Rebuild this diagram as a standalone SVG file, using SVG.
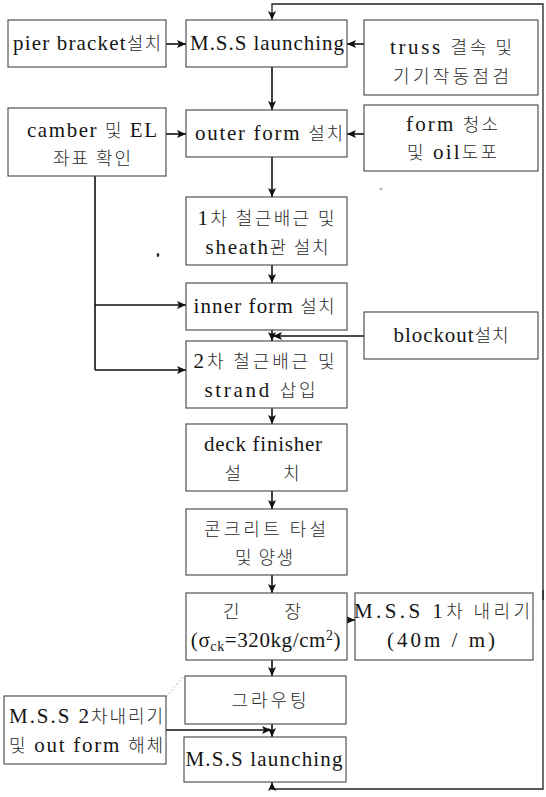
<svg xmlns="http://www.w3.org/2000/svg" width="546" height="797" viewBox="0 0 546 797">
  <style>
    .box { fill: #fff; stroke: #444; stroke-width: 1.1; }
    .t { font-family: "Liberation Serif", "Noto Sans CJK KR", serif; font-size: 21px; fill: #151515; text-anchor: middle; }
    .k { font-family: "Noto Sans CJK KR", "Liberation Serif", sans-serif; font-size: 18px; font-weight: 300; fill: #2a2a2a; }
    .ln { fill: none; stroke: #111; stroke-width: 1.6; }
    .thin { fill: none; stroke: #222; stroke-width: 1.3; }
  </style>
  <defs>
    <marker id="ah" markerUnits="userSpaceOnUse" markerWidth="10" markerHeight="10" refX="9" refY="4" orient="auto">
      <path d="M0,0 L9,4 L0,8 L2,4 z" fill="#111"/>
    </marker>
  </defs>
  <rect width="546" height="797" fill="#fff"/>

  <!-- connectors -->
  <g id="connectors">
    <!-- return loop from the last launching back to the first -->
    <path class="thin" d="M543,600 V4 H272 V20" marker-end="url(#ah)"/>
    <path class="thin" d="M543,590 V789 H272 V782" marker-end="url(#ah)"/>
    <path class="ln" d="M166,44 H186" marker-end="url(#ah)"/>
    <path class="ln" d="M364,44 H347" marker-end="url(#ah)"/>
    <path class="ln" d="M272,67 V110" marker-end="url(#ah)"/>
    <path class="ln" d="M166,134 H186" marker-end="url(#ah)"/>
    <path class="ln" d="M364,134 H347" marker-end="url(#ah)"/>
    <path class="ln" d="M272,157 V197" marker-end="url(#ah)"/>
    <path class="ln" d="M272,265 V283" marker-end="url(#ah)"/>
    <path class="ln" d="M95,176 V370"/>
    <path class="ln" d="M95,305 H186" marker-end="url(#ah)"/>
    <path class="ln" d="M95,370 H186" marker-end="url(#ah)"/>
    <path class="ln" d="M272,330 V341" marker-end="url(#ah)"/>
    <path class="ln" d="M364,336 H273" marker-end="url(#ah)"/>
    <path class="ln" d="M272,408 V424" marker-end="url(#ah)"/>
    <path class="ln" d="M272,491 V509" marker-end="url(#ah)"/>
    <path class="ln" d="M272,575 V593" marker-end="url(#ah)"/>
    <path class="ln" d="M347,620 H355" marker-end="url(#ah)"/>
    <path class="ln" d="M272,660 V676" marker-end="url(#ah)"/>
    <path class="ln" d="M272,724 V737" marker-end="url(#ah)"/>
    <path class="ln" d="M166,730 H271" marker-end="url(#ah)"/>
    <path d="M166,697 L183,677" fill="none" stroke="#999" stroke-width="0.8" stroke-dasharray="2 2"/>
  </g>

  <g id="pier-bracket">
    <rect class="box" x="8" y="20" width="158" height="47"/>
    <text class="t" x="87" y="50" textLength="148" lengthAdjust="spacing">pier bracket<tspan class="k">설치</tspan></text>
  </g>
  <g id="mss-launching-1">
    <rect class="box" x="186" y="20" width="161" height="47"/>
    <text class="t" x="267" y="50" textLength="154" lengthAdjust="spacing">M.S.S launching</text>
  </g>
  <g id="truss">
    <rect class="box" x="364" y="20" width="174" height="75"/>
    <text class="t" x="451" y="54" textLength="122" lengthAdjust="spacing">truss <tspan class="k">결속 및</tspan></text>
    <text class="t" x="451" y="83" textLength="116" lengthAdjust="spacing"><tspan class="k">기기작동점검</tspan></text>
  </g>
  <g id="camber">
    <rect class="box" x="8" y="108" width="158" height="68"/>
    <text class="t" x="92" y="137" textLength="130" lengthAdjust="spacing">camber <tspan class="k">및</tspan> EL</text>
    <text class="t" x="92" y="165" textLength="78" lengthAdjust="spacing"><tspan class="k">좌표 확인</tspan></text>
  </g>
  <g id="outer-form">
    <rect class="box" x="186" y="110" width="161" height="47"/>
    <text class="t" x="269" y="140" textLength="148" lengthAdjust="spacing">outer form <tspan class="k">설치</tspan></text>
  </g>
  <g id="form-cleaning">
    <rect class="box" x="364" y="105" width="174" height="66"/>
    <text class="t" x="452" y="131" textLength="92" lengthAdjust="spacing">form <tspan class="k">청소</tspan></text>
    <text class="t" x="452" y="159" textLength="90" lengthAdjust="spacing"><tspan class="k">및</tspan> oil<tspan class="k">도포</tspan></text>
  </g>
  <g id="rebar-1">
    <rect class="box" x="186" y="197" width="161" height="68"/>
    <text class="t" x="266" y="225" textLength="137" lengthAdjust="spacing">1<tspan class="k">차 철근배근 및</tspan></text>
    <text class="t" x="267" y="254" textLength="123" lengthAdjust="spacing">sheath<tspan class="k">관 설치</tspan></text>
  </g>
  <g id="inner-form">
    <rect class="box" x="186" y="283" width="161" height="47"/>
    <text class="t" x="264" y="313" textLength="141" lengthAdjust="spacing">inner form <tspan class="k">설치</tspan></text>
  </g>
  <g id="blockout">
    <rect class="box" x="364" y="312" width="174" height="47"/>
    <text class="t" x="451" y="342" textLength="115" lengthAdjust="spacing">blockout<tspan class="k">설치</tspan></text>
  </g>
  <g id="rebar-2">
    <rect class="box" x="186" y="341" width="161" height="67"/>
    <text class="t" x="264" y="368" textLength="141" lengthAdjust="spacing">2<tspan class="k">차 철근배근 및</tspan></text>
    <text class="t" x="260" y="397" textLength="111" lengthAdjust="spacing">strand <tspan class="k">삽입</tspan></text>
  </g>
  <g id="deck-finisher">
    <rect class="box" x="186" y="424" width="161" height="67"/>
    <text class="t" x="263" y="451" textLength="118" lengthAdjust="spacing">deck finisher</text>
    <text class="t" x="262" y="480" textLength="75" lengthAdjust="spacing"><tspan class="k">설 치</tspan></text>
  </g>
  <g id="concrete">
    <rect class="box" x="186" y="509" width="161" height="66"/>
    <text class="t" x="265" y="536" textLength="122" lengthAdjust="spacing"><tspan class="k">콘크리트 타설</tspan></text>
    <text class="t" x="264" y="564" textLength="58" lengthAdjust="spacing"><tspan class="k">및 양생</tspan></text>
  </g>
  <g id="tensioning">
    <rect class="box" x="186" y="593" width="161" height="67"/>
    <text class="t" x="262" y="618" textLength="78" lengthAdjust="spacing"><tspan class="k">긴 장</tspan></text>
    <text class="t" x="266" y="647" letter-spacing="0.6">(σ<tspan font-size="14" dy="4">ck</tspan><tspan dy="-4">=320kg/cm</tspan><tspan font-size="14" dy="-7">2</tspan><tspan dy="7">)</tspan></text>
  </g>
  <g id="mss-lowering-1">
    <rect class="box" x="355" y="593" width="178" height="67"/>
    <text class="t" x="442" y="618" textLength="176" lengthAdjust="spacing">M.S.S 1<tspan class="k">차 내리기</tspan></text>
    <text class="t" x="441" y="647" textLength="108" lengthAdjust="spacing">(40m / m)</text>
  </g>
  <g id="grouting">
    <rect class="box" x="185" y="676" width="161" height="48"/>
    <text class="t" x="269" y="707" textLength="75" lengthAdjust="spacing"><tspan class="k">그라우팅</tspan></text>
  </g>
  <g id="mss-lowering-2">
    <rect class="box" x="4" y="696" width="162" height="68"/>
    <text class="t" x="86" y="723" textLength="154" lengthAdjust="spacing">M.S.S 2<tspan class="k">차내리기</tspan></text>
    <text class="t" x="86" y="752" textLength="154" lengthAdjust="spacing"><tspan class="k">및</tspan> out form <tspan class="k">해체</tspan></text>
  </g>
  <g id="mss-launching-2">
    <rect class="box" x="184" y="737" width="162" height="45"/>
    <text class="t" x="264" y="766" textLength="157" lengthAdjust="spacing">M.S.S launching</text>
  </g>

  <!-- stray specks -->
  <ellipse cx="158" cy="255" rx="1.3" ry="2" fill="#222"/>
  <ellipse cx="381" cy="189" rx="1.5" ry="0.8" fill="#777"/>
</svg>
